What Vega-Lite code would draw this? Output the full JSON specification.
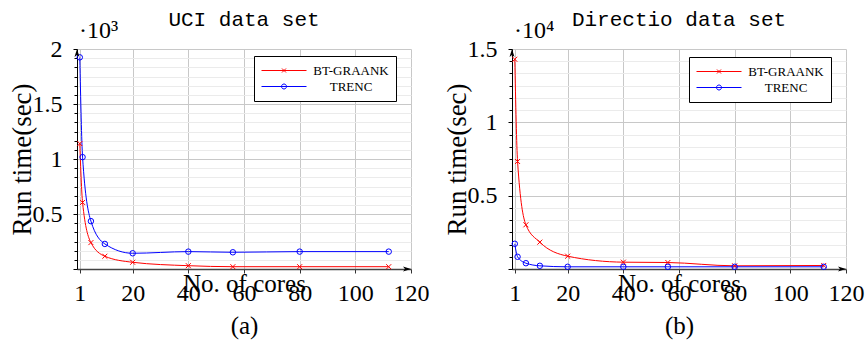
{
  "$schema": "https://vega.github.io/schema/vega-lite/v6.json",
  "autosize": "none",
  "padding": {"left": 77, "top": 49, "right": 789, "bottom": 313},
  "background": "white",
  "spacing": 101,
  "bounds": "flush",
  "config": {
    "view": {"stroke": null},
    "font": "Liberation Serif",
    "title": {"font": "Liberation Mono", "fontSize": 21, "fontWeight": "normal", "anchor": "middle", "frame": "group", "color": "black", "offset": -11},
    "axis": {"labelFont": "Liberation Serif", "titleFont": "Liberation Serif", "labelColor": "black", "titleColor": "black", "labelFontSize": 24, "titleFontSize": 25, "titleFontWeight": "normal", "labelFlush": false, "labelOverlap": false}
  },
  "resolve": {"scale": {"x": "independent", "y": "independent", "color": "independent"}, "legend": {"color": "independent"}},
  "datasets": {
    "runs": [
      {"dataset": "UCI", "method": "BT-GRAANK", "cores": 1, "time": 1140},
      {"dataset": "UCI", "method": "BT-GRAANK", "cores": 2, "time": 605},
      {"dataset": "UCI", "method": "BT-GRAANK", "cores": 5, "time": 240},
      {"dataset": "UCI", "method": "BT-GRAANK", "cores": 10, "time": 116},
      {"dataset": "UCI", "method": "BT-GRAANK", "cores": 20, "time": 61},
      {"dataset": "UCI", "method": "BT-GRAANK", "cores": 40, "time": 30},
      {"dataset": "UCI", "method": "BT-GRAANK", "cores": 56, "time": 21},
      {"dataset": "UCI", "method": "BT-GRAANK", "cores": 80, "time": 21},
      {"dataset": "UCI", "method": "BT-GRAANK", "cores": 112, "time": 21},
      {"dataset": "UCI", "method": "TRENC", "cores": 1, "time": 1924},
      {"dataset": "UCI", "method": "TRENC", "cores": 2, "time": 1017},
      {"dataset": "UCI", "method": "TRENC", "cores": 5, "time": 435},
      {"dataset": "UCI", "method": "TRENC", "cores": 10, "time": 228},
      {"dataset": "UCI", "method": "TRENC", "cores": 20, "time": 143},
      {"dataset": "UCI", "method": "TRENC", "cores": 40, "time": 158},
      {"dataset": "UCI", "method": "TRENC", "cores": 56, "time": 152},
      {"dataset": "UCI", "method": "TRENC", "cores": 80, "time": 158},
      {"dataset": "UCI", "method": "TRENC", "cores": 112, "time": 158},
      {"dataset": "Directio", "method": "BT-GRAANK", "cores": 1, "time": 14300},
      {"dataset": "Directio", "method": "BT-GRAANK", "cores": 2, "time": 7330},
      {"dataset": "Directio", "method": "BT-GRAANK", "cores": 5, "time": 3013},
      {"dataset": "Directio", "method": "BT-GRAANK", "cores": 10, "time": 1830},
      {"dataset": "Directio", "method": "BT-GRAANK", "cores": 20, "time": 875},
      {"dataset": "Directio", "method": "BT-GRAANK", "cores": 40, "time": 465},
      {"dataset": "Directio", "method": "BT-GRAANK", "cores": 56, "time": 443},
      {"dataset": "Directio", "method": "BT-GRAANK", "cores": 80, "time": 218},
      {"dataset": "Directio", "method": "BT-GRAANK", "cores": 112, "time": 240},
      {"dataset": "Directio", "method": "TRENC", "cores": 1, "time": 1718},
      {"dataset": "Directio", "method": "TRENC", "cores": 2, "time": 832},
      {"dataset": "Directio", "method": "TRENC", "cores": 5, "time": 395},
      {"dataset": "Directio", "method": "TRENC", "cores": 10, "time": 218},
      {"dataset": "Directio", "method": "TRENC", "cores": 20, "time": 150},
      {"dataset": "Directio", "method": "TRENC", "cores": 40, "time": 150},
      {"dataset": "Directio", "method": "TRENC", "cores": 56, "time": 150},
      {"dataset": "Directio", "method": "TRENC", "cores": 80, "time": 150},
      {"dataset": "Directio", "method": "TRENC", "cores": 112, "time": 150}
    ]
  },
  "hconcat": [
    {
      "width": 334,
      "height": 220,
      "title": {"text": "UCI data set"},
      "data": {"name": "runs"},
      "encoding": {
        "x": {"field": "cores", "type": "quantitative", "scale": {"domain": [0, 120], "nice": false},
          "axis": {"values": [1, 20, 40, 60, 80, 100, 120], "grid": true, "gridColor": "#c8c8c8", "domainColor": "#444444", "domainWidth": 1.5, "tickColor": "#333333", "tickSize": 4, "labelPadding": 27, "labelBaseline": "alphabetic",
            "title": ["No. of cores", "(a)"], "titleBaseline": "alphabetic", "titleY": 22, "titleLineHeight": 42}},
        "y": {"field": "time", "type": "quantitative", "scale": {"domain": [0, 2000], "nice": false},
          "axis": {"values": [0, 83.333, 166.667, 250, 333.333, 416.667, 500, 583.333, 666.667, 750, 833.333, 916.667, 1000, 1083.333, 1166.667, 1250, 1333.333, 1416.667, 1500, 1583.333, 1666.667, 1750, 1833.333, 1916.667, 2000],
            "grid": true,
            "gridColor": {"condition": {"test": "datum.value % 500 === 0", "value": "#c8c8c8"}, "value": "#ebebeb"},
            "domainColor": "black", "tickColor": "black",
            "tickSize": {"condition": {"test": "datum.value % 500 === 0", "value": 4}, "value": 3},
            "labelPadding": 11, "labelBaseline": "middle",
            "labelExpr": "datum.value > 0 && datum.value % 500 === 0 ? '' + (datum.value / 1000) : ''",
            "title": "Run time(sec)", "titleFontSize": 27, "titleX": -55, "titleY": 110, "titleAngle": 270, "titleAlign": "center", "titleBaseline": "middle"}}
      },
      "layer": [
        {
          "transform": [{"filter": "datum.dataset === 'UCI'"}],
          "mark": {"type": "line", "interpolate": "monotone", "strokeWidth": 1},
          "encoding": {
            "color": {"field": "method", "type": "nominal", "scale": {"domain": ["BT-GRAANK", "TRENC"], "range": ["#ff0000", "#0000ff"]},
              "legend": {"title": null, "orient": "none", "legendX": 177, "legendY": 7, "symbolSize": 196, "symbolStrokeWidth": 1,
                "labelFont": "Liberation Serif", "labelFontSize": 13, "labelColor": "black", "labelAlign": "center", "labelOffset": 75,
                "strokeColor": "black", "fillColor": "white", "padding": 7, "rowPadding": 1,
                "encode": {"symbols": {"update": {"shape": {"signal": "datum.value === 'TRENC' ? 'M-1,0H5.43M2.571,0A0.357,0.357 0 1,1 1.857,0A0.357,0.357 0 1,1 2.571,0' : 'M-1,0H5.43M1.93,-0.286L2.5,0.286M1.93,0.286L2.5,-0.286'"}, "fill": {"value": "transparent"}}}}}}
          }
        },
        {
          "transform": [{"filter": "datum.dataset === 'UCI' && datum.method === 'BT-GRAANK'"}],
          "mark": {"type": "point", "shape": "M-1,-1L1,1M-1,1L1,-1", "filled": false, "size": 25, "strokeWidth": 1, "opacity": 1},
          "encoding": {"color": {"field": "method", "type": "nominal"}}
        },
        {
          "transform": [{"filter": "datum.dataset === 'UCI' && datum.method === 'TRENC'"}],
          "mark": {"type": "point", "shape": "circle", "filled": false, "size": 30, "strokeWidth": 1, "opacity": 1},
          "encoding": {"color": {"field": "method", "type": "nominal"}}
        },
        {
          "transform": [{"filter": "datum.dataset === 'UCI' && datum.method === 'TRENC' && datum.cores === 1"}],
          "mark": {"type": "point", "shape": "M0,0L1,3.2L0,2.4L-1,3.2Z", "filled": true, "color": "black", "size": 25, "opacity": 1, "strokeWidth": 0},
          "encoding": {"x": {"datum": 0, "type": "quantitative"}, "y": {"datum": 2000, "type": "quantitative"}}
        },
        {
          "transform": [{"filter": "datum.dataset === 'UCI' && datum.method === 'TRENC' && datum.cores === 1"}],
          "mark": {"type": "point", "shape": "M0,0L-3.2,-1L-2.4,0L-3.2,1Z", "filled": true, "color": "black", "size": 25, "opacity": 1, "strokeWidth": 0},
          "encoding": {"x": {"datum": 120, "type": "quantitative"}, "y": {"datum": 0, "type": "quantitative"}}
        },
        {
          "transform": [{"filter": "datum.dataset === 'UCI' && datum.method === 'TRENC' && datum.cores === 1"}],
          "mark": {"type": "text", "align": "left", "baseline": "alphabetic", "dx": 2, "dy": -11, "fontSize": 24, "font": "Liberation Serif", "color": "black"},
          "encoding": {"x": {"datum": 0, "type": "quantitative"}, "y": {"datum": 2000, "type": "quantitative"}, "text": {"value": "·10³"}}
        }
      ]
    },
    {
      "width": 334,
      "height": 220,
      "title": {"text": "Directio data set"},
      "data": {"name": "runs"},
      "encoding": {
        "x": {"field": "cores", "type": "quantitative", "scale": {"domain": [0, 120], "nice": false},
          "axis": {"values": [1, 20, 40, 60, 80, 100, 120], "grid": true, "gridColor": "#c8c8c8", "domainColor": "#444444", "domainWidth": 1.5, "tickColor": "#333333", "tickSize": 4, "labelPadding": 27, "labelBaseline": "alphabetic",
            "title": ["No. of cores", "(b)"], "titleBaseline": "alphabetic", "titleY": 22, "titleLineHeight": 42}},
        "y": {"field": "time", "type": "quantitative", "scale": {"domain": [0, 15000], "nice": false},
          "axis": {"values": [0, 833.333, 1666.667, 2500, 3333.333, 4166.667, 5000, 5833.333, 6666.667, 7500, 8333.333, 9166.667, 10000, 10833.333, 11666.667, 12500, 13333.333, 14166.667, 15000],
            "grid": true,
            "gridColor": {"condition": {"test": "datum.value % 5000 === 0", "value": "#c8c8c8"}, "value": "#ebebeb"},
            "domainColor": "black", "tickColor": "black",
            "tickSize": {"condition": {"test": "datum.value % 5000 === 0", "value": 4}, "value": 3},
            "labelPadding": 11, "labelBaseline": "middle",
            "labelExpr": "datum.value > 0 && datum.value % 5000 === 0 ? '' + (datum.value / 10000) : ''",
            "title": "Run time(sec)", "titleFontSize": 27, "titleX": -55, "titleY": 110, "titleAngle": 270, "titleAlign": "center", "titleBaseline": "middle"}}
      },
      "layer": [
        {
          "transform": [{"filter": "datum.dataset === 'Directio'"}],
          "mark": {"type": "line", "interpolate": "monotone", "strokeWidth": 1},
          "encoding": {
            "color": {"field": "method", "type": "nominal", "scale": {"domain": ["BT-GRAANK", "TRENC"], "range": ["#ff0000", "#0000ff"]},
              "legend": {"title": null, "orient": "none", "legendX": 177, "legendY": 8, "symbolSize": 196, "symbolStrokeWidth": 1,
                "labelFont": "Liberation Serif", "labelFontSize": 13, "labelColor": "black", "labelAlign": "center", "labelOffset": 75,
                "strokeColor": "black", "fillColor": "white", "padding": 7, "rowPadding": 1,
                "encode": {"symbols": {"update": {"shape": {"signal": "datum.value === 'TRENC' ? 'M-1,0H5.43M2.571,0A0.357,0.357 0 1,1 1.857,0A0.357,0.357 0 1,1 2.571,0' : 'M-1,0H5.43M1.93,-0.286L2.5,0.286M1.93,0.286L2.5,-0.286'"}, "fill": {"value": "transparent"}}}}}}
          }
        },
        {
          "transform": [{"filter": "datum.dataset === 'Directio' && datum.method === 'BT-GRAANK'"}],
          "mark": {"type": "point", "shape": "M-1,-1L1,1M-1,1L1,-1", "filled": false, "size": 25, "strokeWidth": 1, "opacity": 1},
          "encoding": {"color": {"field": "method", "type": "nominal"}}
        },
        {
          "transform": [{"filter": "datum.dataset === 'Directio' && datum.method === 'TRENC'"}],
          "mark": {"type": "point", "shape": "circle", "filled": false, "size": 30, "strokeWidth": 1, "opacity": 1},
          "encoding": {"color": {"field": "method", "type": "nominal"}}
        },
        {
          "transform": [{"filter": "datum.dataset === 'Directio' && datum.method === 'TRENC' && datum.cores === 1"}],
          "mark": {"type": "point", "shape": "M0,0L1,3.2L0,2.4L-1,3.2Z", "filled": true, "color": "black", "size": 25, "opacity": 1, "strokeWidth": 0},
          "encoding": {"x": {"datum": 0, "type": "quantitative"}, "y": {"datum": 15000, "type": "quantitative"}}
        },
        {
          "transform": [{"filter": "datum.dataset === 'Directio' && datum.method === 'TRENC' && datum.cores === 1"}],
          "mark": {"type": "point", "shape": "M0,0L-3.2,-1L-2.4,0L-3.2,1Z", "filled": true, "color": "black", "size": 25, "opacity": 1, "strokeWidth": 0},
          "encoding": {"x": {"datum": 120, "type": "quantitative"}, "y": {"datum": 0, "type": "quantitative"}}
        },
        {
          "transform": [{"filter": "datum.dataset === 'Directio' && datum.method === 'TRENC' && datum.cores === 1"}],
          "mark": {"type": "text", "align": "left", "baseline": "alphabetic", "dx": 2, "dy": -11, "fontSize": 24, "font": "Liberation Serif", "color": "black"},
          "encoding": {"x": {"datum": 0, "type": "quantitative"}, "y": {"datum": 15000, "type": "quantitative"}, "text": {"value": "·10⁴"}}
        }
      ]
    }
  ]
}
